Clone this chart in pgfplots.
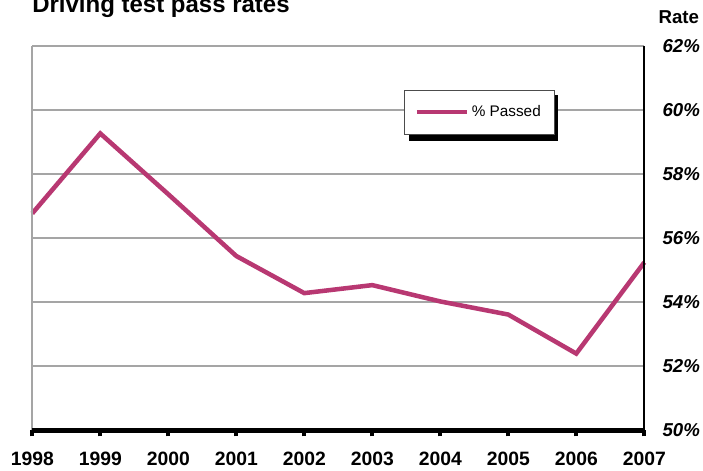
\documentclass[border=0pt]{standalone}
\usepackage{pgfplots}
\pgfplotsset{compat=1.18}
\usepackage{fontspec}
\setmainfont{Liberation Sans}
\definecolor{passcol}{RGB}{184,56,114}
\definecolor{gridgray}{RGB}{165,165,165}
\begin{document}
\begin{tikzpicture}[x=1pt,y=1pt]
\useasboundingbox (0,0) rectangle (527.25,353.25);
\begin{axis}[
  at={(24.2pt,30.45pt)}, anchor=south west,
  scale only axis, width=459pt, height=288pt,
  xmin=1998, xmax=2007, ymin=50, ymax=62,
  clip=false,
  axis line style={draw=none},
  xtick={1998,1999,2000,2001,2002,2003,2004,2005,2006,2007},
  xticklabels={1998,1999,2000,2001,2002,2003,2004,2005,2006,2007},
  xtick pos=bottom,
  tick align=outside,
  xtick style={black, line width=3pt},
  major tick length=4.5pt,
  xticklabel style={font=\bfseries\fontsize{14.5}{14.5}\selectfont, anchor=base, yshift=-22pt},
  ytick={50,52,54,56,58,60,62},
  yticklabels={50\%,52\%,54\%,56\%,58\%,60\%,62\%},
  ytick pos=right,
  ytick style={draw=none},
  yticklabel style={font=\bfseries\itshape\fontsize{14}{14}\selectfont, anchor=west, inner sep=0pt, xshift=9pt},
  ymajorgrids,
  grid style={gridgray, line width=1.5pt},
  legend style={at={(0.73,0.829)}, anchor=center, draw=black!70, line width=0.6pt, fill=white,
    font=\fontsize{11.5}{13}\selectfont,
    inner xsep=8pt, inner ysep=9.5pt},
  legend image code/.code={\draw[#1, line width=3.4pt] (0pt,0pt) -- (37.5pt,0pt);},
]
\addplot[passcol, line width=3.4pt] coordinates {
(1998,56.78) (1999,59.28) (2000,57.38) (2001,55.45) (2002,54.29)
(2003,54.54) (2004,54.03) (2005,53.62) (2006,52.40) (2007,55.25)
};
\addlegendentry{\% Passed}
\draw[gridgray, line width=1.5pt] (rel axis cs:0,0) -- (rel axis cs:0,1);
\draw[black, line width=1.5pt] (rel axis cs:1,0) -- (rel axis cs:1,1);
\draw[black, line width=3.4pt] (rel axis cs:0,0) -- (rel axis cs:1,0);
\fill[black] (rel axis cs:0.6157,0.7534) rectangle (rel axis cs:0.859,0.8733);
\end{axis}
\node[anchor=base west, inner sep=0pt, font=\bfseries\fontsize{18}{18}\selectfont] at (24,343.7) {Driving test pass rates};
\node[anchor=base east, inner sep=0pt, font=\bfseries\fontsize{14}{14}\selectfont] at (524.5,335.8) {Rate};
\end{tikzpicture}
\end{document}
